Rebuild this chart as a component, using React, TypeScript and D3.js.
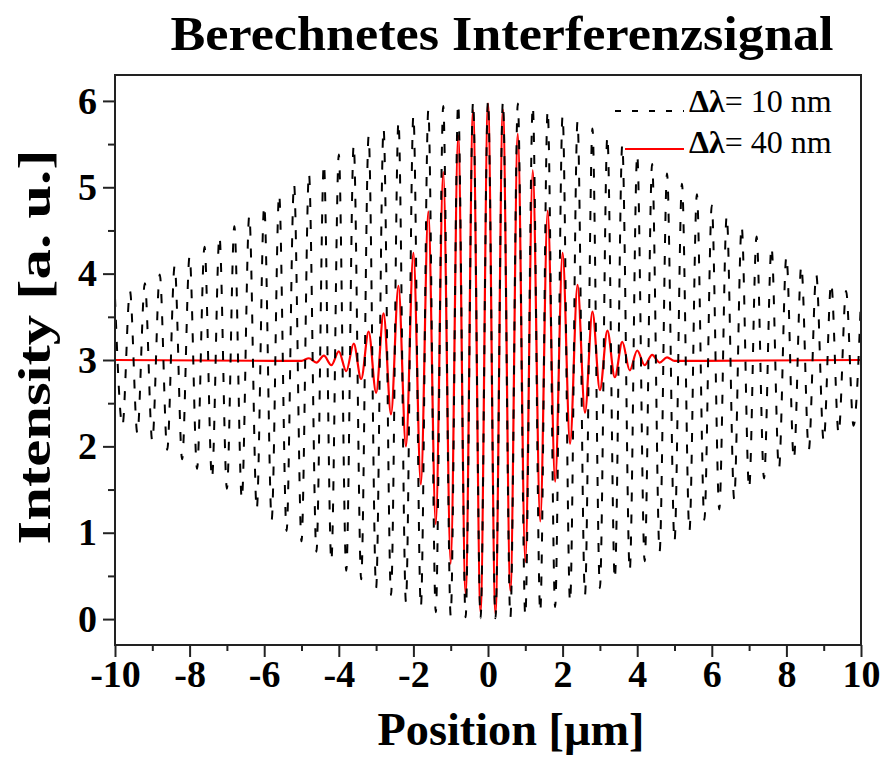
import React, { useEffect, useRef } from "react";
import * as d3 from "d3";

const blackX = [
  -10, -9.8, -9.6, -9.4, -9.2, -9, -8.8, -8.6, -8.4, -8.2,
  -8, -7.8, -7.6, -7.4, -7.2, -7, -6.8, -6.6, -6.4, -6.2,
  -6, -5.8, -5.6, -5.4, -5.2, -5, -4.8, -4.6, -4.4, -4.2,
  -4, -3.8, -3.6, -3.4, -3.2, -3, -2.8, -2.6, -2.4, -2.2,
  -2, -1.8, -1.6, -1.4, -1.2, -1, -0.8, -0.6, -0.4, -0.2,
  0, 0.2, 0.4, 0.6, 0.8, 1, 1.2, 1.4, 1.6, 1.8,
  2, 2.2, 2.4, 2.6, 2.8, 3, 3.2, 3.4, 3.6, 3.8,
  4, 4.2, 4.4, 4.6, 4.8, 5, 5.2, 5.4, 5.6, 5.8,
  6, 6.2, 6.4, 6.6, 6.8, 7, 7.2, 7.4, 7.6, 7.8,
  8, 8.2, 8.4, 8.6, 8.8, 9, 9.2, 9.4, 9.6, 9.8, 10,
];
const blackY = [
  3.72, 2.24, 3.8, 2.15, 3.89, 2.06, 3.99, 1.96, 4.09, 1.85,
  4.2, 1.74, 4.31, 1.63, 4.43, 1.51, 4.55, 1.39, 4.67, 1.27,
  4.79, 1.15, 4.92, 1.02, 5.04, 0.9, 5.16, 0.78, 5.27, 0.67,
  5.38, 0.56, 5.49, 0.46, 5.59, 0.36, 5.68, 0.28, 5.76, 0.2,
  5.83, 0.14, 5.89, 0.08, 5.94, 0.04, 5.97, 0.02, 5.99, 0.01,
  6.0, 0.01, 5.99, 0.02, 5.97, 0.04, 5.94, 0.08, 5.89, 0.14,
  5.83, 0.2, 5.76, 0.28, 5.68, 0.36, 5.59, 0.46, 5.49, 0.56,
  5.38, 0.67, 5.27, 0.78, 5.16, 0.9, 5.04, 1.02, 4.92, 1.15,
  4.79, 1.27, 4.67, 1.39, 4.55, 1.51, 4.43, 1.63, 4.31, 1.74,
  4.2, 1.85, 4.09, 1.96, 3.99, 2.06, 3.89, 2.15, 3.8, 2.24, 3.72,
];

// extrema of the solid signal (Δλ = 40 nm), flat outside ±5 µm
const redX = [
  -10,
  -5, -4.8, -4.6, -4.4, -4.2, -4, -3.8, -3.6, -3.4, -3.2,
  -3, -2.8, -2.6, -2.4, -2.2, -2, -1.8, -1.6, -1.4, -1.2,
  -1, -0.8, -0.6, -0.4, -0.2, 0, 0.2, 0.4, 0.6, 0.8,
  1, 1.2, 1.4, 1.6, 1.8, 2, 2.2, 2.4, 2.6, 2.8,
  3, 3.2, 3.4, 3.6, 3.8, 4, 4.2, 4.4, 4.6, 4.8, 5,
  10,
];
const redY = [
  3,
  2.99, 3.02, 2.97, 3.05, 2.94, 3.1, 2.87, 3.19, 2.78, 3.33,
  2.62, 3.54, 2.37, 3.86, 2.0, 4.24, 1.56, 4.72, 1.1, 5.18,
  0.64, 5.6, 0.3, 5.89, 0.08, 5.97, 0.06, 5.9, 0.33, 5.62,
  0.66, 5.2, 1.13, 4.73, 1.59, 4.24, 2.03, 3.87, 2.39, 3.56,
  2.65, 3.34, 2.8, 3.21, 2.88, 3.11, 2.94, 3.06, 2.97, 3.03, 2.99,
  3,
];

const xMajorTicks = [-10, -8, -6, -4, -2, 0, 2, 4, 6, 8, 10];
const xMinorTicks = [-9, -7, -5, -3, -1, 1, 3, 5, 7, 9];
const yMajorTicks = [0, 1, 2, 3, 4, 5, 6];
const yMinorTicks = [0.5, 1.5, 2.5, 3.5, 4.5, 5.5];
const legendLabels = ["10 nm", "40 nm"];

const FONT = "'Liberation Serif', 'Times New Roman', serif";

const App = () => {
  const svgRef = useRef(null);

  useEffect(() => {
    const width = 885;
    const height = 760;
    const margin = { top: 75, right: 24, bottom: 115, left: 115 };

    const svg = d3.select(svgRef.current);
    svg.selectAll("*").remove();
    svg.attr("width", width).attr("height", height);

    const x = d3
      .scaleLinear()
      .domain([-10, 10])
      .range([margin.left, width - margin.right]);
    const y = d3
      .scaleLinear()
      .domain([-0.3, 6.3])
      .range([height - margin.bottom, margin.top]);

    const line = d3
      .line()
      .x((d) => x(d[0]))
      .y((d) => y(d[1]))
      .curve(d3.curveMonotoneX);

    const red = redX.map((v, i) => [v, redY[i]]);
    const black = blackX.map((v, i) => [v, blackY[i]]);

    svg
      .append("path")
      .attr("d", line(red))
      .attr("fill", "none")
      .attr("stroke", "#ff0000")
      .attr("stroke-width", 2.2);

    svg
      .append("path")
      .attr("d", line(black))
      .attr("fill", "none")
      .attr("stroke", "#000")
      .attr("stroke-width", 2)
      .attr("stroke-dasharray", "9,13");

    // axes
    const styleAxis = (g) => {
      g.select(".domain").remove();
      g.selectAll("line").attr("stroke", "#222").attr("stroke-width", 2);
      g.selectAll("text")
        .attr("fill", "#000")
        .attr("font-family", FONT)
        .attr("font-weight", "bold")
        .attr("font-size", 38);
    };

    const bottom = height - margin.bottom;
    svg
      .append("g")
      .attr("transform", "translate(0," + bottom + ")")
      .call(
        d3.axisBottom(x).tickValues(xMajorTicks).tickSize(12).tickPadding(3).tickFormat((d) => String(d))
      )
      .call(styleAxis);
    svg
      .append("g")
      .attr("transform", "translate(0," + bottom + ")")
      .call(d3.axisBottom(x).tickValues(xMinorTicks).tickSize(6).tickFormat(() => ""))
      .call(styleAxis);

    svg
      .append("g")
      .attr("transform", "translate(" + margin.left + ",0)")
      .call(
        d3.axisLeft(y).tickValues(yMajorTicks).tickSize(12).tickPadding(6).tickFormat((d) => String(d))
      )
      .call(styleAxis);
    svg
      .append("g")
      .attr("transform", "translate(" + margin.left + ",0)")
      .call(d3.axisLeft(y).tickValues(yMinorTicks).tickSize(7).tickFormat(() => ""))
      .call(styleAxis);

    // frame
    svg
      .append("rect")
      .attr("x", margin.left)
      .attr("y", margin.top)
      .attr("width", width - margin.left - margin.right)
      .attr("height", height - margin.top - margin.bottom)
      .attr("fill", "none")
      .attr("stroke", "#222")
      .attr("stroke-width", 2);

    // title and axis labels
    svg
      .append("text")
      .attr("x", 502)
      .attr("y", 50)
      .attr("text-anchor", "middle")
      .attr("font-family", FONT)
      .attr("font-weight", "bold")
      .attr("font-size", 48)
      .attr("textLength", 663)
      .attr("lengthAdjust", "spacingAndGlyphs")
      .text("Berechnetes Interferenzsignal");

    svg
      .append("text")
      .attr("x", 511)
      .attr("y", 745)
      .attr("text-anchor", "middle")
      .attr("font-family", FONT)
      .attr("font-weight", "bold")
      .attr("font-size", 46)
      .attr("textLength", 267)
      .attr("lengthAdjust", "spacingAndGlyphs")
      .text("Position [µm]");

    svg
      .append("text")
      .attr("transform", "translate(50,347) rotate(-90)")
      .attr("text-anchor", "middle")
      .attr("font-family", FONT)
      .attr("font-weight", "bold")
      .attr("font-size", 46)
      .attr("textLength", 395)
      .attr("lengthAdjust", "spacingAndGlyphs")
      .text("Intensity [a. u.]");

    // legend
    const legend = svg.append("g");
    const rows = [
      { label: legendLabels[0], color: "#000", dash: "6,11", base: 112, ly: 111, x0: 615 },
      { label: legendLabels[1], color: "#ff0000", dash: null, base: 153, ly: 149, x0: 625 },
    ];
    rows.forEach((r) => {
      legend
        .append("line")
        .attr("x1", r.x0)
        .attr("x2", 684)
        .attr("y1", r.ly)
        .attr("y2", r.ly)
        .attr("stroke", r.color)
        .attr("stroke-width", 2)
        .attr("stroke-dasharray", r.dash);
      const t = legend
        .append("text")
        .attr("x", 689)
        .attr("y", r.base)
        .attr("font-family", FONT)
        .attr("font-size", 32)
        .attr("fill", "#000");
      t.append("tspan").attr("font-weight", "bold").text("Δλ");
      t.append("tspan").text("= " + r.label);
    });
  }, []);

  return (
    <svg
      ref={svgRef}
      width={885}
      height={760}
      style={{ position: "absolute", left: 0, top: 0, background: "#fff" }}
    ></svg>
  );
};

export default App;
